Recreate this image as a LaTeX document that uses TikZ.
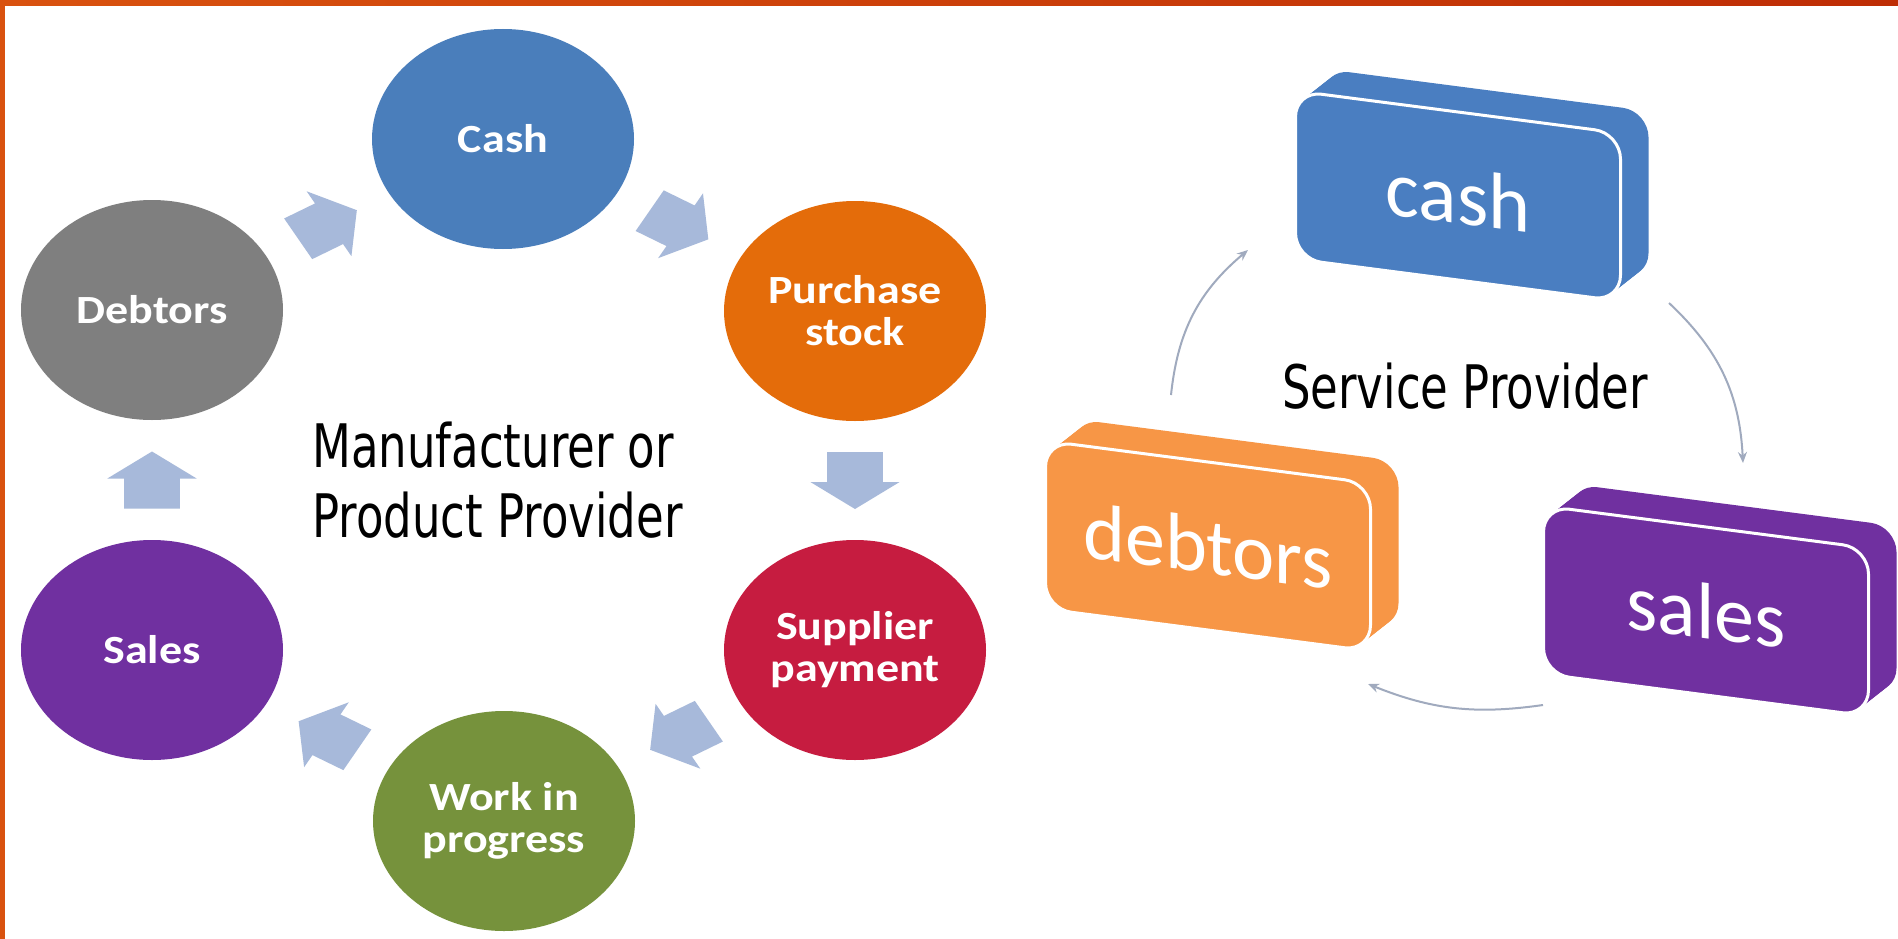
\documentclass[tikz,border=0pt]{standalone}
\usepackage{fontspec}
\setmainfont{Carlito}
\newfontfamily\agency{DejaVu Sans}[FakeStretch=0.75]
\newfontfamily\ellfont{Carlito}[FakeStretch=1.15]
\usetikzlibrary{shapes.geometric,calc,arrows.meta}
\definecolor{cashc}{RGB}{74,126,187}
\definecolor{debc}{RGB}{127,127,127}
\definecolor{purc}{RGB}{228,108,10}
\definecolor{supc}{RGB}{198,28,64}
\definecolor{wipc}{RGB}{118,146,60}
\definecolor{salc}{RGB}{112,48,160}
\definecolor{boxblue}{RGB}{74,126,193}
\definecolor{boxorange}{RGB}{247,150,70}
\definecolor{boxpurple}{RGB}{112,48,160}
\definecolor{arrowc}{RGB}{167,185,218}
\definecolor{connc}{RGB}{160,170,190}
\definecolor{borderc}{RGB}{217,82,15}
\definecolor{borderd}{RGB}{190,45,5}
\tikzset{
  ell/.style={ellipse, minimum width=262pt, minimum height=220pt, inner sep=0pt,
    text=white, align=center, font=\ellfont\bfseries\fontsize{40}{42}\selectfont},
  boxface/.style={rectangle, rounded corners=26pt, minimum width=325pt,
    minimum height=168pt, inner sep=0pt, transform shape},
  biglabel/.style={anchor=base west, inner sep=0pt, text=black,
    font=\agency\fontsize{60}{70}\selectfont},
  conn/.style={draw=connc, line width=2pt, -{Stealth[length=11pt,width=9pt]}}
}
% block arrow drawn in un-stretched (circle) space, then stretched horizontally
\newcommand\barrow[2]{%
  \pgfmathanglebetweenpoints{\pgfpointanchor{#1}{center}}{\pgfpointanchor{#2}{center}}%
  \pgfmathsetmacro\barang{atan2(sin(\pgfmathresult),cos(\pgfmathresult)/1.19)}%
  \begin{scope}[shift={($(#1)!0.5!(#2)$)}, xscale=1.19, rotate=\barang]
    \fill[arrowc] (-28.5pt,-23.5pt) -- (1.5pt,-23.5pt) -- (1.5pt,-37.5pt) -- (28.5pt,0pt)
      -- (1.5pt,37.5pt) -- (1.5pt,23.5pt) -- (-28.5pt,23.5pt) -- cycle;
  \end{scope}}
\newcommand\tdbox[5]{%
  \foreach \k in {12,11,...,1}{%
    \begin{scope}[shift={(#2,#3)}, shift={({\k*2.333pt},{\k*1.833pt})}, yslant=-0.13]
      \node[boxface, fill=#4] {};
    \end{scope}}%
  \begin{scope}[shift={(#2,#3)}, yslant=-0.13]
    \node[boxface, fill=#4, draw=white, line width=3pt, text=white,
      font=\fontsize{80}{80}\selectfont] (#1) {#5};
  \end{scope}}
\begin{document}
\begin{tikzpicture}[x=1pt,y=-1pt]
\useasboundingbox (0,0) rectangle (1898,939);
\fill[white] (0,0) rectangle (1898,939);
% left cycle
\node[ell, fill=cashc] (cash) at (503,139) {Cash};
\node[ell, fill=debc] (debtors) at (152,310) {Debtors};
\node[ell, fill=purc] (purchase) at (855,311) {Purchase\\stock};
\node[ell, fill=supc] (supplier) at (855,650) {Supplier\\payment};
\node[ell, fill=wipc] (wip) at (504,821) {Work in\\progress};
\node[ell, fill=salc] (sales) at (152,650) {Sales};
\barrow{debtors}{cash}
\barrow{cash}{purchase}
\barrow{purchase}{supplier}
\barrow{supplier}{wip}
\barrow{wip}{sales}
\barrow{sales}{debtors}
\node[biglabel] (mfr1) at (312,467) {Manufacturer or};
\node[biglabel] (mfr2) at (312,537) {Product Provider};
% right cycle
\tdbox{cashb}{1458}{196}{boxblue}{cash}
\tdbox{debtorsb}{1208}{546}{boxorange}{debtors}
\tdbox{salesb}{1706}{611}{boxpurple}{sales}
\node[biglabel] (svc) at (1282,408) {Service Provider};
\coordinate (dbout) at (1171,395);
\coordinate (cbin) at (1248,250);
\coordinate (cbout) at (1669,303);
\coordinate (sbin) at (1743,463);
\coordinate (sbout) at (1543,705);
\coordinate (dbin) at (1368,684);
\draw[conn] (dbout) to[bend left=22] (cbin);
\draw[conn] (cbout) to[bend left=22] (sbin);
\draw[conn] (sbout) to[bend left=15] (dbin);
% border
\fill[borderc] (0,0) rectangle (5,939);
\shade[left color=borderc, right color=borderd] (0,0) rectangle (1898,6);
\end{tikzpicture}
\end{document}
